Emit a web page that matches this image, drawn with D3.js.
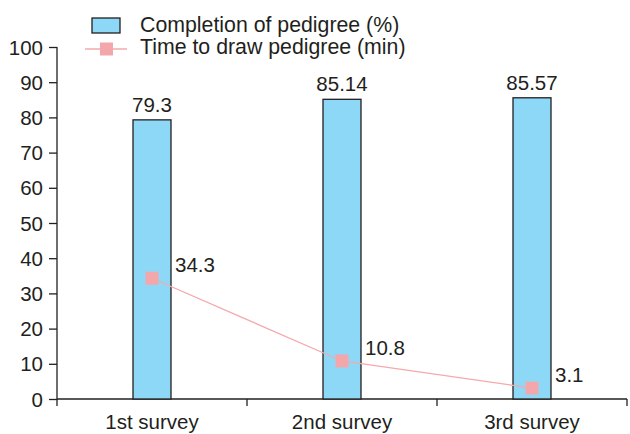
<!DOCTYPE html>
<html>
<head>
<meta charset="utf-8">
<script src="https://cdn.jsdelivr.net/npm/d3@7"></script>
<style>
  body { margin: 0; background: #fff; }
  svg text { font-family: "Liberation Sans", Arial, sans-serif; fill: #231f20; }
</style>
</head>
<body>
<svg id="chart" width="630" height="434"></svg>
<script>
// Survey categories and the two measured series
const categories = ["1st survey", "2nd survey", "3rd survey"];
const completion = [79.3, 85.14, 85.57];      // Completion of pedigree (%)
const completionLabels = ["79.3", "85.14", "85.57"];
const drawTime = [34.3, 10.8, 3.1];           // Time to draw pedigree (min)
const drawTimeLabels = ["34.3", "10.8", "3.1"];
const yTicks = [0, 10, 20, 30, 40, 50, 60, 70, 80, 90, 100];
const legendItems = ["Completion of pedigree (%)", "Time to draw pedigree (min)"];

const svg = d3.select("#chart");
const plotLeft = 57, plotRight = 627, plotTop = 47, plotBottom = 399;
const fs = 20.5;

const x = d3.scaleBand().domain(categories).range([plotLeft, plotRight]).paddingInner(0).paddingOuter(0);
const y = d3.scaleLinear().domain([0, 100]).range([plotBottom, plotTop]);
const barW = 38;
const cx = d => x(d) + x.bandwidth() / 2;

const ink = "#231f20";
const barFill = "#8dd8f6";
const pink = "#f4a7ab";
const pinkLine = "#f5a9ad";

// Y axis
const yAxis = svg.append("g").attr("transform", `translate(${plotLeft},0)`)
  .call(d3.axisLeft(y).tickValues(yTicks).tickSize(8).tickPadding(6));
yAxis.select(".domain").attr("stroke", ink).attr("stroke-width", 1.3).attr("d", `M0,${plotTop}V${plotBottom}`);
yAxis.selectAll(".tick line").attr("stroke", ink).attr("stroke-width", 1.3);
yAxis.selectAll(".tick text").attr("font-size", fs).attr("dy", "0.35em")
  .style("font-family", '"Liberation Sans", Arial, sans-serif').attr("fill", ink);

// X axis with ticks at category boundaries
const xg = svg.append("g").attr("transform", `translate(0,${plotBottom})`);
xg.append("line").attr("x1", plotLeft).attr("x2", plotRight).attr("stroke", ink).attr("stroke-width", 1.3);
const bounds = [plotLeft].concat(categories.map(c => x(c) + x.bandwidth()));
xg.selectAll(".bt").data(bounds).join("line")
  .attr("x1", d => d).attr("x2", d => d).attr("y1", 0).attr("y2", 7)
  .attr("stroke", ink).attr("stroke-width", 1.3);
xg.selectAll(".cl").data(categories).join("text")
  .attr("x", d => cx(d)).attr("y", 30).attr("text-anchor", "middle")
  .attr("font-size", fs).text(d => d);

// Bars
svg.selectAll(".bar").data(categories).join("rect")
  .attr("x", d => cx(d) - barW / 2)
  .attr("y", (d, i) => y(completion[i]))
  .attr("width", barW)
  .attr("height", (d, i) => plotBottom - y(completion[i]))
  .attr("fill", barFill).attr("stroke", ink).attr("stroke-width", 1.3);

svg.selectAll(".barlab").data(categories).join("text")
  .attr("x", d => cx(d)).attr("y", (d, i) => y(completion[i]) - 8)
  .attr("text-anchor", "middle").attr("font-size", fs)
  .text((d, i) => completionLabels[i]);

// Line with square markers
const line = d3.line().x((d, i) => cx(categories[i])).y(d => y(d));
svg.append("path").datum(drawTime).attr("d", line)
  .attr("fill", "none").attr("stroke", pinkLine).attr("stroke-width", 1.3);
const m = 13;
svg.selectAll(".mk").data(drawTime).join("rect")
  .attr("x", (d, i) => cx(categories[i]) - m / 2)
  .attr("y", d => y(d) - m / 2)
  .attr("width", m).attr("height", m).attr("fill", pink);
svg.selectAll(".mklab").data(drawTime).join("text")
  .attr("x", (d, i) => cx(categories[i]) + 23)
  .attr("y", d => y(d) - 6)
  .attr("font-size", fs)
  .text((d, i) => drawTimeLabels[i]);

// Legend
const lg = svg.append("g");
lg.append("rect").attr("x", 92).attr("y", 18).attr("width", 28).attr("height", 15)
  .attr("fill", barFill).attr("stroke", ink).attr("stroke-width", 1.3);
lg.append("line").attr("x1", 85).attr("x2", 127).attr("y1", 49).attr("y2", 49)
  .attr("stroke", pinkLine).attr("stroke-width", 1.3);
lg.append("rect").attr("x", 100).attr("y", 42.5).attr("width", 13).attr("height", 13).attr("fill", pink);
lg.selectAll(".lt").data(legendItems).join("text")
  .attr("x", 140).attr("y", (d, i) => 31.5 + i * 22)
  .attr("font-size", 21.3).text(d => d);
</script>
</body>
</html>
